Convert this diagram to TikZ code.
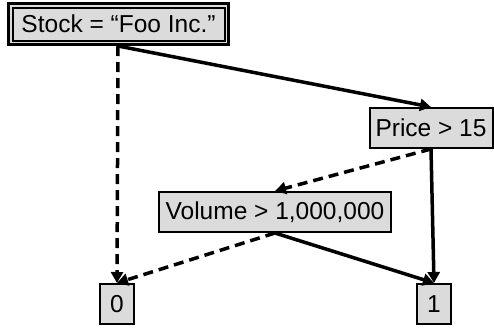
\documentclass[tikz,border=0pt]{standalone}
\usepackage{fontspec}
\setmainfont{Liberation Sans}
\usetikzlibrary{arrows.meta}
\definecolor{boxgray}{HTML}{DBDBDB}
\tikzset{
  box/.style={draw=black, fill=boxgray, line width=2, inner sep=0pt,
    font=\fontsize{24.5}{29}\selectfont},
  yes/.style={line width=3.5, -{Triangle[length=11,width=12]}},
  no/.style={line width=3.5, dash pattern=on 10 off 6, -{Triangle[length=11,width=12]}},
}
\begin{document}
\begin{tikzpicture}[x=1pt,y=-1pt]
\useasboundingbox (0,0) rectangle (494,330);
% root with double border
\fill[boxgray] (8.5,3.5) rectangle (228.5,44.5);
\draw[line width=3.5] (8.5,3.5) rectangle (228.5,44.5);
\node[box, minimum width=212, minimum height=33] (root) at (118.5,24) {Stock = “Foo Inc.”};
\node[box, minimum width=123, minimum height=40] (price) at (431,128) {Price > 15};
\node[box, minimum width=232, minimum height=40] (vol) at (275,212) {Volume > 1,000,000};
\node[box, minimum width=34, minimum height=40] (zero) at (117,304) {0};
\node[box, minimum width=34, minimum height=40] (one) at (434,304) {1};
\coordinate (rootb) at (118,46);
\draw[no] (rootb) -- (zero.north);
\draw[yes] (rootb) -- (price.north);
\draw[no] (price.south) -- (vol.north);
\draw[yes] (price.south) -- (one.north);
\draw[no] (vol.south) -- (zero.north);
\draw[yes] (vol.south) -- (one.north);
\end{tikzpicture}
\end{document}
